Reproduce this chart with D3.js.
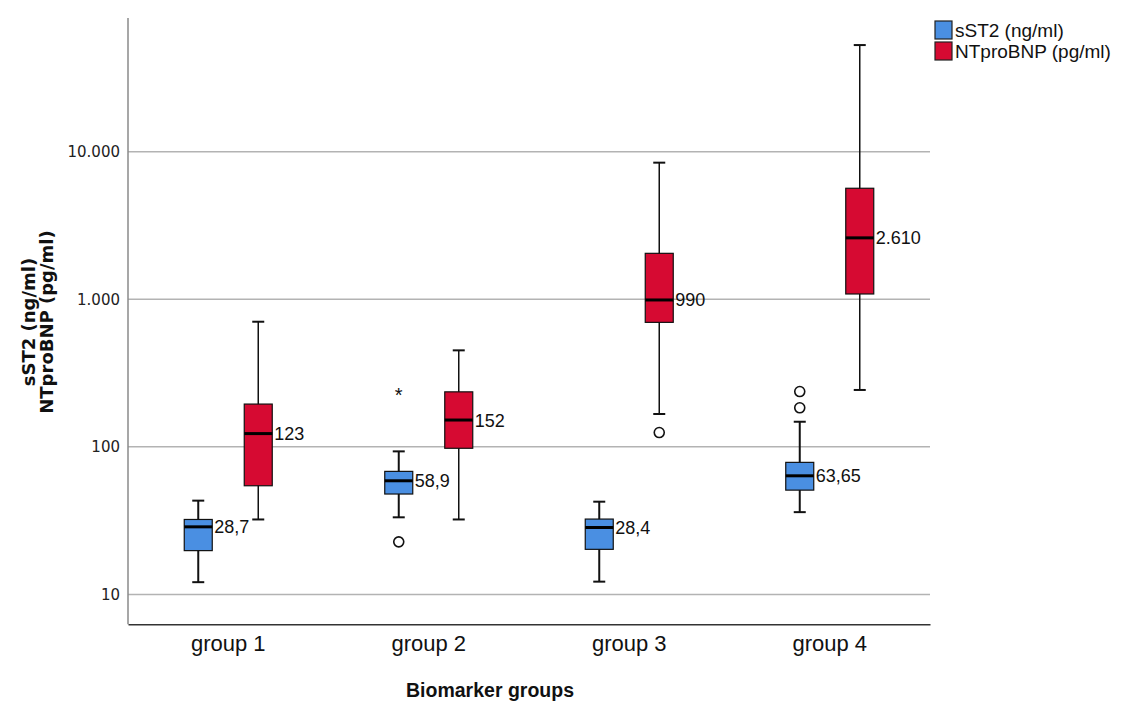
<!DOCTYPE html>
<html>
<head>
<meta charset="utf-8">
<script src="https://cdn.jsdelivr.net/npm/d3@7"></script>
<style>
  body { margin: 0; background: #fff; }
</style>
</head>
<body>
<div id="chart"></div>
<script>
const groups = ["group 1", "group 2", "group 3", "group 4"];
const series = ["sST2 (ng/ml)", "NTproBNP (pg/ml)"];
const colors = ["#4a8fe2", "#d60a32"];

// [whisker low, Q1, median, Q3, whisker high]
const sst2Stats = [
  [12.1, 19.8, 28.7, 32.2, 43.2],
  [33.3, 47.9, 58.9, 68.2, 93.2],
  [12.2, 20.2, 28.4, 32.4, 42.5],
  [36.1, 50.9, 63.65, 78.5, 148]
];
const ntStats = [
  [32.2, 54.5, 123, 195, 705],
  [32.2, 97.8, 152, 236, 451],
  [167, 698, 990, 2050, 8440],
  [243, 1087, 2610, 5660, 52900]
];
// outliers: [group index, series index, value, kind]
const outliers = [
  [1, 0, 22.7, "circle"],
  [1, 0, 234, "star"],
  [2, 1, 125, "circle"],
  [3, 0, 184, "circle"],
  [3, 0, 237, "circle"]
];
const yTicks = [10, 100, 1000, 10000];

const sansFont = "'Liberation Sans', Arial, sans-serif";
const verdanaFont = "'DejaVu Sans', Verdana, sans-serif";

const width = 1130, height = 702;
const svg = d3.select("#chart")
  .append("svg")
  .attr("width", width)
  .attr("height", height)
  .attr("font-family", sansFont);

const plotLeft = 128, plotRight = 930, plotTop = 18, plotBottom = 624.3;

const de = d3.formatLocale({ decimal: ",", thousands: ".", grouping: [3], currency: ["", "€"] });
const fmt = de.format(",");

const y = d3.scaleLog().domain([6.27, 80700]).range([plotBottom, plotTop]);
const x = d3.scaleBand().domain(groups).range([plotLeft, plotRight]);
const xs = d3.scalePoint().domain(series).range([-30, 30]);

// gridlines
svg.selectAll(".grid")
  .data(yTicks)
  .join("line")
  .attr("class", "grid")
  .attr("x1", plotLeft)
  .attr("x2", plotRight)
  .attr("y1", d => y(d))
  .attr("y2", d => y(d))
  .attr("stroke", "#b3b3b3")
  .attr("stroke-width", 1.5);

// y axis
const yAxis = svg.append("g")
  .attr("transform", `translate(${plotLeft},0)`)
  .call(d3.axisLeft(y).tickValues(yTicks).tickFormat(fmt).tickSize(0).tickPadding(8));
yAxis.select(".domain").remove();
yAxis.selectAll("text")
  .attr("font-family", verdanaFont)
  .attr("font-size", 15)
  .attr("fill", "#222");

svg.append("line")
  .attr("x1", plotLeft).attr("x2", plotLeft)
  .attr("y1", plotTop).attr("y2", plotBottom)
  .attr("stroke", "#8a8a8a").attr("stroke-width", 1.5);

// x axis
const xAxis = svg.append("g")
  .attr("transform", `translate(0,${plotBottom})`)
  .call(d3.axisBottom(x).tickSize(0).tickPadding(11));
xAxis.select(".domain").attr("stroke", "#333").attr("stroke-width", 1.5);
xAxis.selectAll("text")
  .attr("font-family", sansFont)
  .attr("font-size", 22)
  .attr("fill", "#111");

// axis titles
svg.append("text")
  .attr("x", 490)
  .attr("y", 697)
  .attr("text-anchor", "middle")
  .attr("font-size", 19.5)
  .attr("font-weight", "bold")
  .attr("fill", "#111")
  .text("Biomarker groups");

const yTitle = svg.append("text")
  .attr("transform", "translate(35,322) rotate(-90)")
  .attr("text-anchor", "middle")
  .attr("font-family", verdanaFont)
  .attr("font-size", 18)
  .attr("font-weight", "bold")
  .attr("fill", "#111");
yTitle.append("tspan").attr("x", 0).attr("dy", 0).text("sST2 (ng/ml)");
yTitle.append("tspan").attr("x", 0).attr("dy", 17.5).text("NTproBNP (pg/ml)");

// boxes
const boxData = [];
groups.forEach((g, i) => {
  boxData.push({ group: g, s: 0, v: sst2Stats[i] });
  boxData.push({ group: g, s: 1, v: ntStats[i] });
});

const boxW = 28, capW = 12;
const boxes = svg.selectAll(".box")
  .data(boxData)
  .join("g")
  .attr("class", "box")
  .attr("transform", d => `translate(${x(d.group) + x.bandwidth() / 2 + xs(series[d.s])},0)`);

boxes.append("line")
  .attr("x1", 0).attr("x2", 0)
  .attr("y1", d => y(d.v[0]))
  .attr("y2", d => y(d.v[4]))
  .attr("stroke", "#111")
  .attr("stroke-width", d => d.s === 0 ? 2 : 1.5);

boxes.selectAll(".cap")
  .data(d => [{ v: d.v[0], s: d.s }, { v: d.v[4], s: d.s }])
  .join("line")
  .attr("class", "cap")
  .attr("x1", -capW / 2).attr("x2", capW / 2)
  .attr("y1", d => y(d.v)).attr("y2", d => y(d.v))
  .attr("stroke", "#111")
  .attr("stroke-width", 2);

boxes.append("rect")
  .attr("x", -boxW / 2)
  .attr("width", boxW)
  .attr("y", d => y(d.v[3]))
  .attr("height", d => y(d.v[1]) - y(d.v[3]))
  .attr("fill", d => colors[d.s])
  .attr("stroke", "#111")
  .attr("stroke-width", 1.2);

boxes.append("line")
  .attr("x1", -boxW / 2).attr("x2", boxW / 2)
  .attr("y1", d => y(d.v[2])).attr("y2", d => y(d.v[2]))
  .attr("stroke", "#000")
  .attr("stroke-width", 3);

boxes.append("text")
  .attr("x", boxW / 2 + 2)
  .attr("y", d => y(d.v[2]))
  .attr("dy", "0.36em")
  .attr("font-size", 18)
  .attr("fill", "#111")
  .text(d => fmt(d.v[2]));

// outliers
const outG = svg.selectAll(".outlier")
  .data(outliers)
  .join("g")
  .attr("class", "outlier")
  .attr("transform", d => `translate(${x(groups[d[0]]) + x.bandwidth() / 2 + xs(series[d[1]])},${y(d[2])})`);

outG.filter(d => d[3] === "circle")
  .append("circle")
  .attr("r", 5)
  .attr("fill", "none")
  .attr("stroke", "#111")
  .attr("stroke-width", 1.6);

outG.filter(d => d[3] === "star")
  .append("text")
  .attr("text-anchor", "middle")
  .attr("dy", "0.72em")
  .attr("y", -5)
  .attr("font-size", 20)
  .attr("fill", "#111")
  .text("*");

// legend
const legend = svg.selectAll(".legend")
  .data(series)
  .join("g")
  .attr("class", "legend")
  .attr("transform", (d, i) => `translate(935,${21 + i * 21})`);

legend.append("rect")
  .attr("width", 17)
  .attr("height", 18)
  .attr("fill", (d, i) => colors[i])
  .attr("stroke", "#222")
  .attr("stroke-width", 1.2);

legend.append("text")
  .attr("x", 20)
  .attr("y", 16)
  .attr("font-size", 19)
  .attr("fill", "#111")
  .text(d => d);
</script>
</body>
</html>
